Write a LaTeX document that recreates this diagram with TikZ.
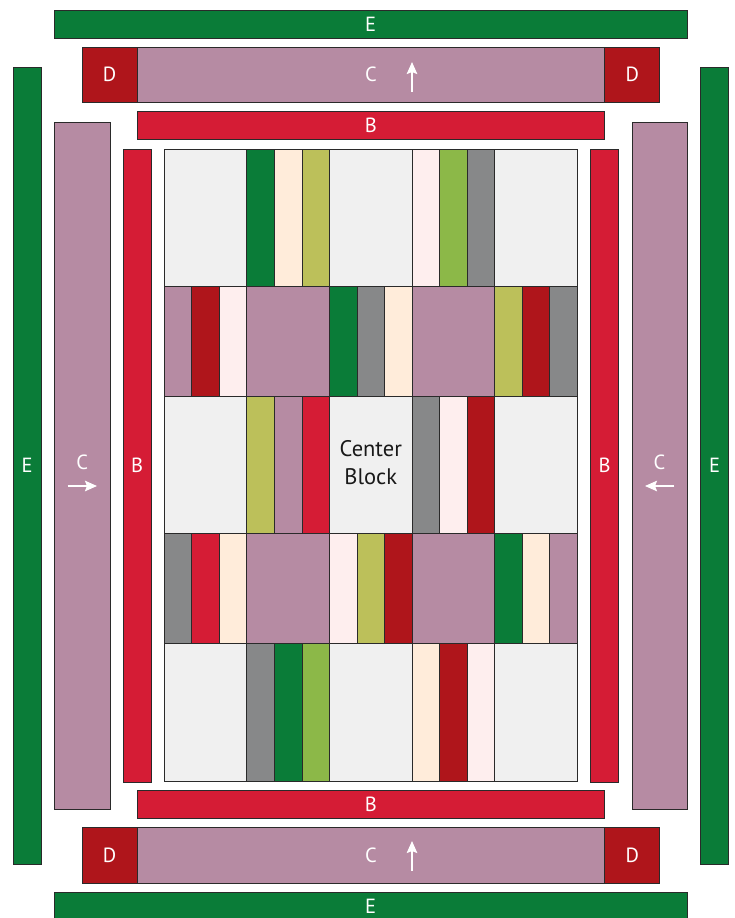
\documentclass[tikz,border=0pt]{standalone}
\usepackage{fontspec}
\setmainfont{PT Sans}
\usetikzlibrary{arrows.meta}
\definecolor{cE}{HTML}{0A7C38}
\definecolor{cD}{HTML}{AF151B}
\definecolor{cC}{HTML}{B68BA3}
\definecolor{cB}{HTML}{D51C35}
\definecolor{cLt}{HTML}{F0F0F0}
\definecolor{cCream}{HTML}{FFECDA}
\definecolor{cOlive}{HTML}{BCC05A}
\definecolor{cPink}{HTML}{FEEEEE}
\definecolor{cLime}{HTML}{8CB848}
\definecolor{cGray}{HTML}{878889}
\definecolor{cLine}{HTML}{2A2A2A}
\tikzset{
  piece/.style={draw=cLine, line width=0.9pt},
  lab/.style={text=white, inner sep=0pt, font=\fontsize{20.5}{24}\selectfont},
  arr/.style={draw=white, line width=1.8pt, -{Stealth[length=12pt,width=10.5pt,inset=2pt]}},
}
\newcommand\blk[6]{\draw[piece, fill=#5] (#1,#2) rectangle (#3,#4);
  \node[lab] at ({(#1+#3)/2},{(#2+#4)/2}) {#6};}
\newcommand\cell[4]{\draw[piece, fill=#4] ({164.3+82.6*#1},#2) rectangle ({164.3+82.6*(#1+1)},#3);}
\newcommand\strips[6]{%
  \draw[piece, fill=#4] ({164.3+82.6*#1},#2) rectangle ({164.3+82.6*#1+27.533},#3);
  \draw[piece, fill=#5] ({164.3+82.6*#1+27.533},#2) rectangle ({164.3+82.6*#1+55.067},#3);
  \draw[piece, fill=#6] ({164.3+82.6*#1+55.067},#2) rectangle ({164.3+82.6*(#1+1)},#3);}
\begin{document}
\begin{tikzpicture}[x=1pt,y=-1pt]
\useasboundingbox (0,0) rectangle (735,918);
\clip (0,0) rectangle (735,918);
% outer E borders
\blk{54.3}{10.3}{687}{38}{cE}{E}
\blk{54.3}{892.3}{687}{925}{cE}{}
\node[lab] at (370.6,906) {E};
\blk{13.3}{67}{41}{864.3}{cE}{E}
\blk{700.3}{67}{728.7}{864.3}{cE}{E}
% top D C D
\blk{82}{47.3}{137.3}{102.3}{cD}{D}
\blk{137.3}{47.3}{604.7}{102.3}{cC}{C}
\blk{604.7}{47.3}{659.7}{102.3}{cD}{D}
% bottom D C D
\blk{82}{827.7}{137.3}{883}{cD}{D}
\blk{137.3}{827.7}{604.7}{883}{cC}{C}
\blk{604.7}{827.7}{659.7}{883}{cD}{D}
% side C
\draw[piece, fill=cC] (54.7,122) rectangle (110,809.3);
\node[lab] at (82.3,462) {C};
\draw[piece, fill=cC] (632,122) rectangle (687,809.3);
\node[lab] at (659.5,462) {C};
% B borders
\blk{137}{111.3}{604.7}{139.3}{cB}{B}
\blk{137}{790.3}{604.7}{818}{cB}{B}
\blk{123.3}{149.3}{151}{782}{cB}{B}
\blk{590.7}{149.3}{618.3}{782}{cB}{B}
% arrows
\draw[arr] (412,92) -- (412,62);
\draw[arr] (412,871) -- (412,841);
\draw[arr] (67.7,486) -- (97,486);
\draw[arr] (674.3,486) -- (645,486);
% row 1
\cell{0}{149.3}{286.6}{cLt}
\strips{1}{149.3}{286.6}{cE}{cCream}{cOlive}
\cell{2}{149.3}{286.6}{cLt}
\strips{3}{149.3}{286.6}{cPink}{cLime}{cGray}
\cell{4}{149.3}{286.6}{cLt}
% row 2
\strips{0}{286.6}{396.6}{cC}{cD}{cPink}
\cell{1}{286.6}{396.6}{cC}
\strips{2}{286.6}{396.6}{cE}{cGray}{cCream}
\cell{3}{286.6}{396.6}{cC}
\strips{4}{286.6}{396.6}{cOlive}{cD}{cGray}
% row 3
\cell{0}{396.6}{533.9}{cLt}
\strips{1}{396.6}{533.9}{cOlive}{cC}{cB}
\cell{2}{396.6}{533.9}{cLt}
\strips{3}{396.6}{533.9}{cGray}{cPink}{cD}
\cell{4}{396.6}{533.9}{cLt}
\node[align=center, font=\fontsize{22.5}{28}\selectfont, text=black!90] (center) at (370.8,462.5) {Center\\Block};
% row 4
\strips{0}{533.9}{643.9}{cGray}{cB}{cCream}
\cell{1}{533.9}{643.9}{cC}
\strips{2}{533.9}{643.9}{cPink}{cOlive}{cD}
\cell{3}{533.9}{643.9}{cC}
\strips{4}{533.9}{643.9}{cE}{cCream}{cC}
% row 5
\cell{0}{643.9}{781.6}{cLt}
\strips{1}{643.9}{781.6}{cGray}{cE}{cLime}
\cell{2}{643.9}{781.6}{cLt}
\strips{3}{643.9}{781.6}{cCream}{cD}{cPink}
\cell{4}{643.9}{781.6}{cLt}
\end{tikzpicture}
\end{document}
